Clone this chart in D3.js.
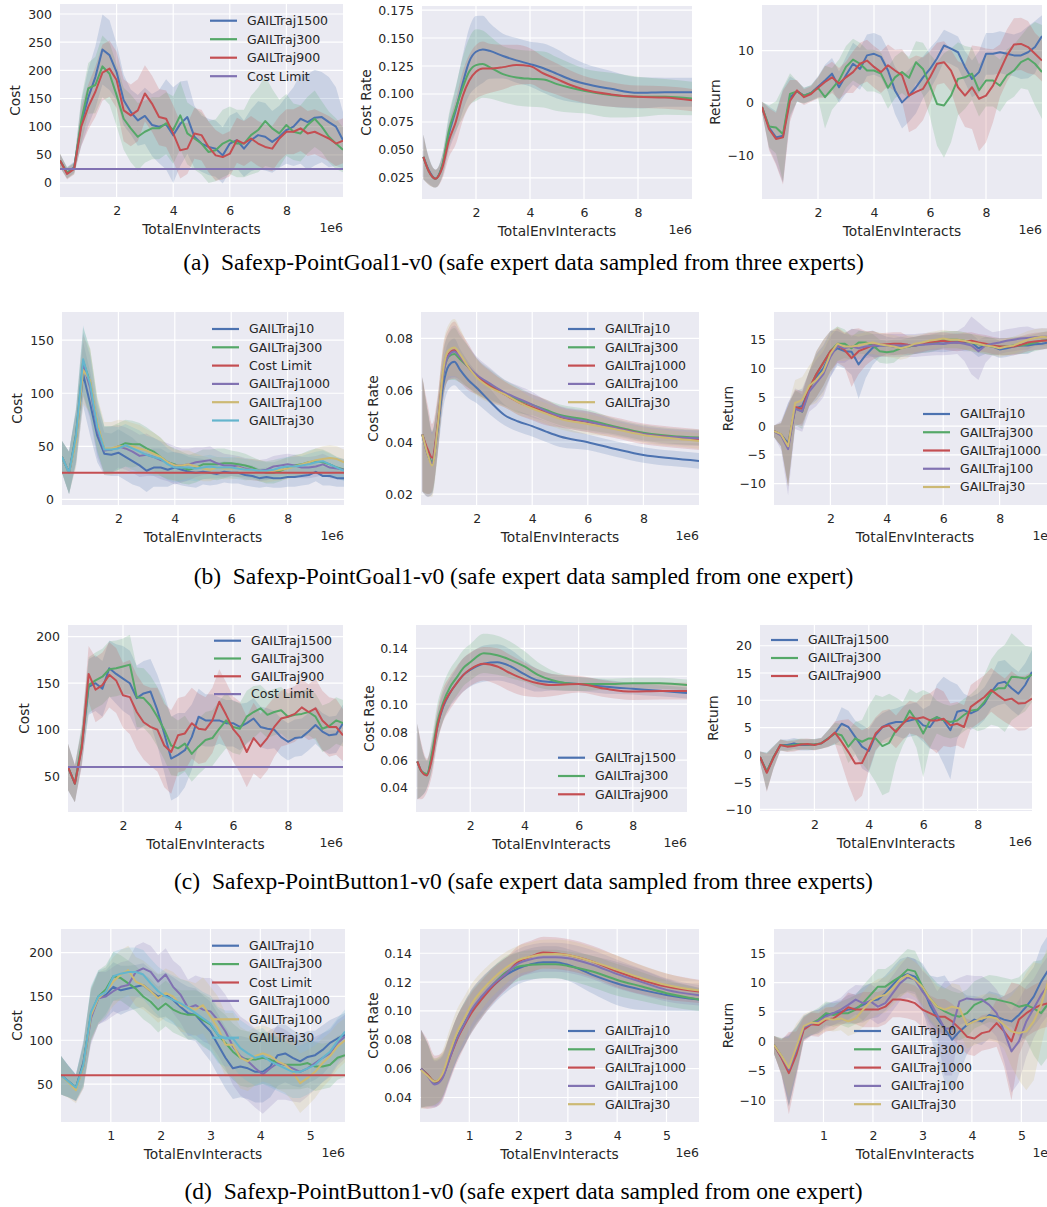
<!DOCTYPE html>
<html>
<head>
<meta charset="utf-8">
<script src="https://cdn.jsdelivr.net/npm/d3@7"></script>
<style>
  body { margin: 0; background: #fff; }
  svg text { font-family: "DejaVu Sans", sans-serif; fill: #262626; }
  svg text.caption { font-family: "Liberation Serif", "Times New Roman", serif; font-size: 23.5px; fill: #000; white-space: pre; }
</style>
</head>
<body>
<div id="chart"></div>
<script>
// 1: DATA (x in units of 1e6 env interacts)

// shared sample grids
const grid10 = [0,0.25,0.5,0.75,1,1.25,1.5,1.75,2,2.25,2.5,2.75,3,3.25,3.5,3.75,4,4.25,4.5,4.75,5,5.25,5.5,5.75,6,6.25,6.5,6.75,7,7.25,7.5,7.75,8,8.25,8.5,8.75,9,9.25,9.5,9.75,10];
const grid57 = [0,0.15,0.3,0.45,0.6,0.75,0.9,1.05,1.2,1.35,1.5,1.65,1.8,1.95,2.1,2.25,2.4,2.55,2.7,2.85,3,3.15,3.3,3.45,3.6,3.75,3.9,4.05,4.2,4.35,4.5,4.65,4.8,4.95,5.1,5.25,5.4,5.55,5.7];
const gx_a_rate = [0.05,0.25,0.5,0.75,1,1.25,1.5,1.75,2,2.25,2.5,3,3.5,4,4.5,5,5.5,6,7,8,9,10];
const gx_b_rate = [0.05,0.25,0.4,0.6,0.8,1,1.2,1.4,1.7,2,2.5,3,3.5,4,4.5,5,6,7,8,9,10];
const gx_c_rate = [0.05,0.2,0.4,0.6,0.8,1,1.25,1.5,1.75,2,2.5,3,3.5,4,4.5,5,6,7,8,9,10];
const gx_d_rate = [0.02,0.15,0.3,0.45,0.6,0.75,0.9,1.05,1.25,1.5,1.75,2,2.25,2.5,2.75,3,3.5,4,4.5,5,5.7];

const costLimitA = 25, costLimitB = 25, costLimitC = 60, costLimitD = 60;

// (a) cost
const a_cost_1500 = [40,18,28,105,152,188,237,227,197,147,126,111,119,103,100,104,85,105,117,82,70,64,61,49,70,76,61,76,85,82,73,82,94,100,114,108,116,117,108,100,76];
const a_cost_300  = [40,18,26,110,168,174,207,194,156,114,97,82,91,97,97,106,94,120,88,79,70,55,58,70,76,70,70,85,94,110,97,88,103,91,88,103,114,100,82,70,59];
const a_cost_900  = [40,16,25,100,135,162,196,203,183,129,120,129,159,141,117,114,88,58,61,88,85,64,49,46,52,76,70,79,70,64,61,79,91,91,97,88,91,85,79,70,75];
const a_cost_1500_sd = [12,10,10,40,50,55,62,62,50,45,40,45,50,55,65,80,85,75,65,55,50,50,50,50,50,50,50,55,60,60,55,55,60,70,80,85,85,80,80,70,50];
const a_cost_300_sd  = [12,10,10,40,45,50,55,55,55,55,60,60,55,55,55,55,60,60,55,55,55,55,55,60,60,60,60,70,75,80,70,60,55,50,50,50,50,45,45,45,40];
const a_cost_900_sd  = [12,10,10,35,40,45,50,50,50,55,55,55,50,50,50,50,50,50,45,45,45,45,45,40,40,40,40,40,40,40,40,40,40,40,40,40,40,40,40,40,40];

// (a) cost rate
const a_rate_1500 = [0.0438,0.0319,0.0244,0.036,0.0647,0.0855,0.109,0.129,0.1377,0.1398,0.1386,0.1339,0.130,0.1267,0.123,0.118,0.113,0.1094,0.1046,0.101,0.1016,0.1016];
const a_rate_300  = [0.0438,0.031,0.0244,0.036,0.0676,0.087,0.105,0.12,0.1258,0.1267,0.124,0.1177,0.1148,0.1136,0.113,0.1088,0.1055,0.1028,0.099,0.0975,0.0975,0.096];
const a_rate_900  = [0.0438,0.031,0.0244,0.034,0.0587,0.075,0.0975,0.112,0.1198,0.1228,0.1228,0.124,0.126,0.1249,0.1183,0.1133,0.108,0.104,0.0996,0.0975,0.0969,0.0945];
const a_rate_1500_sd = [0.02,0.012,0.008,0.01,0.015,0.02,0.025,0.03,0.032,0.03,0.025,0.02,0.02,0.02,0.022,0.022,0.02,0.018,0.016,0.014,0.013,0.013];
const a_rate_300_sd  = [0.02,0.012,0.008,0.01,0.015,0.02,0.027,0.03,0.032,0.03,0.028,0.025,0.025,0.025,0.025,0.024,0.022,0.02,0.02,0.018,0.016,0.015];
const a_rate_900_sd  = [0.02,0.012,0.008,0.01,0.015,0.02,0.022,0.023,0.024,0.024,0.022,0.02,0.018,0.016,0.015,0.014,0.013,0.012,0.011,0.01,0.01,0.01];

// (a) return
const a_ret_1500 = [-0.8,-4.7,-6.6,-6.3,1.1,2.2,1.4,1.9,3.1,4.3,5.6,3.0,5.3,7.5,6.5,9.1,9.4,8.8,6.2,2.4,0.1,1.4,3.0,4.9,6.5,8.5,11.0,10.4,9.7,6.9,4.6,5.9,9.4,9.4,9.7,9.4,9.1,9.1,9.7,10.7,12.8];
const a_ret_300  = [-0.8,-4.5,-4.7,-6.0,1.7,2.2,1.4,1.9,2.9,1.1,2.7,4.3,6.9,8.3,7.5,6.2,6.2,5.6,2.9,4.9,5.9,4.8,7.8,6.5,3.3,-0.2,-0.5,1.4,4.6,4.9,5.6,2.4,4.3,4.3,3.3,5.3,6.2,7.8,8.5,7.5,5.9];
const a_ret_900  = [-0.8,-5.0,-6.9,-6.6,0.4,2.4,1.1,1.7,2.9,4.0,4.9,3.7,4.9,5.9,7.5,8.1,6.9,5.9,7.2,6.2,5.3,1.4,2.1,2.7,4.9,7.5,7.8,6.2,3.0,1.4,3.0,0.8,1.4,3.3,6.2,9.1,11.2,11.3,10.7,9.4,8.1];
const a_ret_1500_sd = [1,4,5,9,4,2,1.5,1.5,2,3,3,3,3.5,4,4,4,4,4,4,4.5,5,5,5,4,4,3.5,3,3,3,3,3.5,4,4,4,4,4,4,4.5,5,5,4];
const a_ret_300_sd  = [1,4,5,9,4,2,1.5,1.5,2,6,4,4,4,4,4,4,4,4,4,4,4,4,4,5,6,8,10,9,7,6,5,5,5,5,5,5,5,5,6,8,9];
const a_ret_900_sd  = [1,4,5,9,4,2,1.5,1.5,2,3,3,3,3,4,4,4,4,4,4,4,5,7,7,6,5,4,4,4,5,6,8,10,9,7,5,5,5,5,5,4,4];

// (b) cost
const b_cost_10   = [40,25,58,118,90,60,43,42,44,40,36,32,27,30,30,28,30,28,26,25,26,25,24,26,25,25,23,22,20,21,20,20,21,21,22,23,26,22,22,20,20];
const b_cost_300  = [40,25,62,130,110,70,47,47,50,53,52,52,48,45,40,35,33,30,28,30,33,33,33,34,34,33,32,30,27,25,25,27,30,32,33,35,36,35,33,30,28];
const b_cost_1000 = [40,25,60,127,105,65,46,47,50,48,45,41,42,40,37,35,32,32,33,35,36,37,34,32,32,31,29,28,27,28,31,32,33,32,30,30,31,33,30,29,28];
const b_cost_100  = [40,25,55,122,112,72,48,48,50,50,50,48,46,43,40,35,32,32,33,31,29,28,30,29,29,30,28,28,27,26,27,28,29,31,33,35,37,38,39,38,35];
const b_cost_30   = [40,25,60,132,108,68,47,47,48,51,48,45,42,40,38,33,30,30,30,29,30,31,30,30,30,29,28,28,27,27,28,30,31,31,32,33,35,36,33,30,27];
const b_cost_10_sd   = [15,20,25,30,30,25,20,20,22,22,22,20,20,18,18,16,15,15,14,14,12,12,10,10,10,10,10,10,9,9,9,9,9,9,9,9,9,9,9,8,8];
const b_cost_300_sd  = [15,20,25,32,32,25,22,22,22,22,22,20,20,18,18,16,15,15,14,14,14,14,15,14,12,12,11,10,10,10,10,10,10,10,10,11,12,12,11,10,10];
const b_cost_1000_sd = [15,20,25,30,30,25,22,22,20,20,20,20,20,18,18,18,18,16,15,14,13,13,12,11,10,10,10,10,10,10,10,10,10,10,10,10,10,10,10,10,10];
const b_cost_100_sd  = [15,20,25,32,30,25,25,25,25,24,22,22,20,20,18,16,15,14,13,12,12,11,10,10,10,10,10,10,10,10,10,10,10,10,10,10,11,12,12,12,12];
const b_cost_30_sd   = [15,20,25,32,30,25,22,22,20,20,20,20,18,18,16,15,14,13,12,12,11,11,10,10,10,10,10,9,9,9,9,9,9,9,9,10,10,10,10,10,10];

// (b) cost rate
const b_rate_10   = [0.043,0.035,0.0318,0.045,0.062,0.0695,0.071,0.068,0.064,0.061,0.0555,0.0505,0.048,0.0462,0.0441,0.0422,0.040,0.0374,0.0351,0.0338,0.0328];
const b_rate_300  = [0.043,0.036,0.0325,0.046,0.066,0.073,0.074,0.072,0.069,0.0655,0.062,0.059,0.0563,0.0544,0.0524,0.0505,0.0486,0.046,0.0437,0.0424,0.0418];
const b_rate_1000 = [0.043,0.037,0.034,0.047,0.067,0.074,0.0755,0.073,0.069,0.0655,0.0615,0.0585,0.0555,0.0535,0.0515,0.0497,0.0478,0.0455,0.0432,0.042,0.041];
const b_rate_100  = [0.043,0.035,0.032,0.046,0.066,0.0735,0.075,0.073,0.069,0.066,0.0625,0.0592,0.0568,0.0545,0.052,0.050,0.048,0.0455,0.0432,0.042,0.0415];
const b_rate_30   = [0.043,0.035,0.031,0.046,0.068,0.0755,0.0765,0.074,0.069,0.065,0.061,0.0585,0.0555,0.053,0.051,0.049,0.047,0.045,0.0428,0.0415,0.0405];
const b_rate_10_sd   = [0.022,0.016,0.012,0.01,0.009,0.009,0.009,0.008,0.007,0.006,0.005,0.004,0.004,0.004,0.004,0.004,0.003,0.003,0.003,0.003,0.003];
const b_rate_300_sd  = [0.022,0.016,0.012,0.01,0.009,0.009,0.01,0.009,0.008,0.007,0.006,0.005,0.005,0.004,0.004,0.004,0.004,0.003,0.003,0.003,0.003];
const b_rate_1000_sd = [0.022,0.017,0.013,0.011,0.01,0.01,0.011,0.01,0.009,0.007,0.006,0.005,0.005,0.005,0.005,0.004,0.004,0.004,0.004,0.004,0.004];
const b_rate_100_sd  = [0.022,0.016,0.012,0.01,0.009,0.009,0.01,0.009,0.008,0.007,0.006,0.005,0.005,0.005,0.004,0.004,0.004,0.003,0.003,0.003,0.003];
const b_rate_30_sd   = [0.022,0.016,0.012,0.011,0.01,0.01,0.011,0.01,0.008,0.007,0.006,0.005,0.005,0.004,0.004,0.004,0.004,0.003,0.003,0.003,0.003];

// (b) return
const b_ret_10   = [-0.9,-1.5,-3,3,3.5,6.5,8.5,10,12.5,13.5,13.0,12.9,10.7,12.3,13.6,14,14,13.8,14,13.8,14,14.2,14.3,14.4,14.3,14.5,14.6,14.5,14.5,13.5,14,13.8,13.3,13.5,13.8,14,14,14.2,14.3,14.5,14.5];
const b_ret_300  = [-0.9,-1.5,-3.5,3.2,2.5,6.5,9,11,13,14.3,14.3,13.5,14.5,14.5,14,13,12.8,13,13.5,13.8,14,14.2,14.3,14.6,15,15,15,14.8,14.5,14.2,14,13.8,13.8,13.8,14,14,14.2,14.5,14.8,15,15];
const b_ret_1000 = [-0.9,-1.5,-3.5,3.3,3,6.5,9,11,13,14,13.2,11.8,13,13.5,14,14.1,14.2,14.3,14.3,14.1,14,14.3,14.6,14.7,14.8,14.6,14.5,14.7,14.8,14.5,14.3,14,13.8,13.8,13.8,14.1,14.5,14.7,14.8,14.9,15];
const b_ret_100  = [-0.9,-1.6,-4,3,2.5,6,7.5,9,12,14,13.5,13.8,13.5,13.8,14,14,14,14,14,14,14,14.1,14.2,14.3,14.3,14.4,14.5,14.3,14,13,14,14.3,14.5,14.8,15,15.2,15.3,15.4,15.5,15.5,15.5];
const b_ret_30   = [-0.9,-1.4,-3.5,4,4.5,7,8,9.5,12.5,14.3,13.8,13.8,14,14.3,14.5,14.2,14,13.8,13.5,13.8,14.3,14.5,14.8,15,15.2,15,15,14.8,14.5,14.3,14,13.8,13.5,13.8,14,14.5,15,15.3,15.5,15.4,15.3];
const b_ret_10_sd   = [1,2,7,3,3,3,4,4,4,3,3,4,6,4,3,2, 1.5,1.5,1.5,1.5,1.5, 1.5,1.5,1.5,1.5,1.5, 1.5,1.5,1.5,1.5,1.5, 1.5,1.5,1.5,1.5,1.5, 1.5, 1,1,1,1];
const b_ret_300_sd  = [1,2,7,3,3,3,4,4,3.5,3,2.5,2,2,2,2,2,2,2, 1.5,1.5,1.5,1.5,1.5, 1.5,1.5,1.5,1.5,1.5, 1.5,1.5,1.5,1.5,1.5, 1.5,1.5,1.5,1.5,1.5, 1.5,1.5,1.5];
const b_ret_1000_sd = [1,2,7,3,3,3,4,4,3.5,3,3,5,4,3,2.5,2,2,2,2,1.5, 1.5,1.5,1.5,1.5,1.5, 1.5,1.5,1.5,1.5,1.5, 1.5,1.5,1.5,1.5,1.5, 1.5,1.5,1.5,1.5,1.5, 1.5];
const b_ret_100_sd  = [1,2.5,8,3.5,3.5,3.5,4,4,3.5,3,2.5,2,2,2,2,2,2,2,2,2, 2,2,2,2,2, 2,2,3,5,5, 3,2,2,2,2, 2,2,1.5,1.5,1.5, 1.5];
const b_ret_30_sd   = [1,2,7,4,4,3.5,4,4,3.5,3,2.5,2,2,2,2,2,2,2,2,2, 1.5,1.5,1.5,1.5,1.5, 1.5,1.5,1.5,1.5,1.5, 1.5,1.5,1.5,1.5,1.5, 1.5,1.5,1.5,1.5,1.5, 1.5];

// (c) cost
const c_cost_1500 = [60,42,82,146,150,144,166,160,155,150,134,139,141,121,96,69,73,78,92,114,110,110,110,107,107,103,107,112,103,101,100,92,87,91,92,98,105,98,94,95,107];
const c_cost_300  = [60,42,85,148,153,157,165,166,168,170,135,134,126,114,100,83,80,85,74,82,89,91,101,110,103,101,114,119,123,116,119,121,114,116,117,119,114,101,104,110,107];
const c_cost_900  = [60,42,80,160,143,148,159,153,137,135,119,108,103,100,83,76,94,96,107,101,100,110,130,116,101,92,76,91,82,91,103,112,114,117,124,119,123,110,103,103,94];
const c_cost_1500_sd = [25,20,20,30,30,30,30,32,35,35,35,35,35,38,42,45,45,40,35,30,28,28,25,25,25,25,22,22,22,22,20,20,20,20,20,20,20,20,20,20,20];
const c_cost_300_sd  = [25,20,20,30,30,30,30,30,30,32,32,32,32,32,32,32,30,30,30,30,30,30,30,30,28,28,28,28,25,25,25,25,25,25,25,25,25,25,25,25,25];
const c_cost_900_sd  = [25,20,20,30,35,35,35,35,35,40,40,40,42,45,45,45,40,40,38,38,35,35,35,35,35,38,38,38,35,35,32,30,30,30,30,30,32,32,32,30,28];

// (c) cost rate
const c_rate_1500 = [0.059,0.052,0.0495,0.064,0.085,0.098,0.108,0.115,0.121,0.1245,0.129,0.130,0.127,0.1215,0.117,0.1158,0.1144,0.1125,0.111,0.1096,0.108];
const c_rate_300  = [0.059,0.052,0.05,0.066,0.088,0.101,0.112,0.119,0.126,0.130,0.1364,0.135,0.1316,0.127,0.121,0.1173,0.1144,0.1144,0.115,0.115,0.1137];
const c_rate_900  = [0.059,0.052,0.049,0.062,0.085,0.099,0.108,0.115,0.121,0.125,0.129,0.127,0.122,0.1178,0.115,0.1137,0.1144,0.111,0.109,0.1094,0.1094];
const c_rate_1500_sd = [0.027,0.018,0.01,0.01,0.01,0.01,0.01,0.011,0.012,0.012,0.013,0.013,0.012,0.01,0.008,0.006,0.005,0.005,0.004,0.004,0.004];
const c_rate_300_sd  = [0.027,0.018,0.01,0.012,0.013,0.013,0.013,0.013,0.013,0.013,0.014,0.014,0.013,0.011,0.009,0.007,0.005,0.004,0.004,0.004,0.004];
const c_rate_900_sd  = [0.027,0.02,0.012,0.012,0.012,0.012,0.012,0.012,0.012,0.012,0.012,0.013,0.013,0.012,0.01,0.008,0.006,0.006,0.006,0.006,0.006];

// (c) return
const c_ret_1500 = [-0.4,-3.1,-0.4,1.8,1.8,2.1,1.8,1.8,1.9,2.1,3.0,3.9,5.7,5.1,3.3,1.5,0.7,3.6,5.1,5.7,6.0,6.0,6.3,6.6,5.4,5.1,6.9,6.3,4.5,7.9,8.2,7.6,8.2,9.4,11.5,13.1,13.4,12.2,11.2,12.8,15.2];
const c_ret_300  = [-0.4,-3.1,-0.4,1.8,1.6,1.8,2,1.9,1.9,2.1,3.0,3.9,3.6,1.5,3.0,2.4,3.0,3.0,1.6,2.2,4.5,5.7,8.1,6.3,3.9,6.3,6.9,6.3,6.0,6.3,7.3,8.1,8.3,9.7,11.5,12.2,12.2,14.3,14.2,14.0,14.7];
const c_ret_900  = [-0.4,-3.3,-0.5,1.8,1.5,1.6,1.9,2.0,1.8,2.1,2.9,4.1,2.4,0.5,-1.6,-1.5,1.1,3.9,5.1,5.4,4.2,5.7,6.9,6.6,6.9,6.3,6.3,6.6,5.4,5.7,5.1,8.8,9.7,10.6,11.9,10.9,10.0,10.3,9.4,9.5,10.3];
const c_ret_1500_sd = [1,3.5,2,1,1,1,1,1,1,1,1.5,2,3,3,3,4,4,3,2.5,2.5,2.5,3,3,3,3,4,6,8,9,5,3,3,3,3,3,4,4,4,4,4,4];
const c_ret_300_sd  = [1,3.5,2,1,1,1,1,1,1,1,1.5,2,2,3,3,4,6,8,9,9,6,4,4,5,8,5,3,3,3,3,3,3,4,5,6,7,8,8,7,6,5];
const c_ret_900_sd  = [1,3.5,2,1,1,1,1,1,1,1,1.5,2,4,6,7,6,4,3,3,3,3,3,3,3,4,5,6,5,4,4,4,4,4,4,4,4,4,5,5,5,5];

// (d) cost
const d_cost_10   = [60,53,46,75,128,148,152,161,157,159,161,163,156,150,152,146,138,131,129,119,110,95,80,68,70,68,64,64,70,83,85,80,76,81,83,89,97,102,106];
const d_cost_300  = [60,53,46,72,130,150,158,173,171,165,159,150,144,135,142,135,131,129,129,123,118,106,97,87,80,78,78,80,78,74,72,72,72,74,70,70,72,80,83];
const d_cost_1000 = [60,53,45,70,125,148,150,156,161,163,178,182,178,167,175,161,152,137,140,135,133,123,110,93,82,76,68,61,68,74,72,68,64,68,74,80,85,97,104];
const d_cost_100  = [60,52,43,70,128,148,155,167,175,180,167,163,156,148,154,150,140,138,135,140,127,114,95,95,80,76,82,85,82,76,72,64,51,57,64,74,82,93,100];
const d_cost_30   = [60,53,46,72,132,150,155,173,176,178,178,175,165,156,150,146,142,137,131,125,119,106,102,102,91,85,80,82,76,72,68,64,64,68,72,80,87,99,110];
const d_cost_10_sd   = [22,18,15,25,30,30,28,28,28,26,25,25,25,25,25,26,28,30,30,32,34,35,35,35,35,35,35,35,35,35,33,32,30,30,28,28,26,25,25];
const d_cost_300_sd  = [22,18,15,25,30,30,28,28,26,26,26,26,26,26,26,26,26,28,28,30,30,30,32,32,32,32,30,30,30,30,28,28,28,28,28,26,26,25,25];
const d_cost_1000_sd = [22,18,15,25,30,30,28,28,28,28,30,30,30,30,30,30,32,32,34,36,38,40,42,44,45,45,45,45,44,42,40,38,35,32,30,28,27,26,25];
const d_cost_100_sd  = [22,18,15,25,30,30,28,28,28,28,28,28,28,28,28,28,30,30,30,32,34,36,36,36,35,34,33,32,32,32,32,34,34,32,30,28,27,26,25];
const d_cost_30_sd   = [22,18,15,25,30,30,28,28,28,28,28,28,28,28,28,28,28,30,30,30,32,32,32,32,32,32,32,32,30,30,30,30,30,30,28,28,27,26,25];

// (d) cost rate
const d_rate_10   = [0.06,0.056,0.05,0.054,0.068,0.081,0.091,0.100,0.109,0.118,0.125,0.1296,0.1324,0.1338,0.1338,0.132,0.125,0.119,0.1146,0.1111,0.1077];
const d_rate_300  = [0.06,0.056,0.051,0.055,0.068,0.081,0.091,0.100,0.109,0.119,0.127,0.1308,0.132,0.1324,0.1324,0.1312,0.1273,0.1215,0.1169,0.1123,0.1077];
const d_rate_1000 = [0.06,0.056,0.051,0.054,0.067,0.080,0.090,0.099,0.108,0.118,0.126,0.1342,0.1377,0.1405,0.140,0.1388,0.1342,0.1273,0.1215,0.1169,0.1134];
const d_rate_100  = [0.06,0.055,0.049,0.053,0.067,0.081,0.091,0.101,0.110,0.119,0.126,0.133,0.1358,0.1372,0.1372,0.1365,0.132,0.1255,0.12,0.1146,0.1107];
const d_rate_30   = [0.059,0.055,0.051,0.056,0.071,0.085,0.095,0.105,0.114,0.123,0.130,0.1354,0.1377,0.1393,0.1395,0.1388,0.1342,0.1285,0.1227,0.118,0.1139];
const d_rate_10_sd   = [0.027,0.022,0.016,0.015,0.015,0.015,0.015,0.015,0.014,0.013,0.012,0.011,0.011,0.011,0.011,0.011,0.013,0.015,0.014,0.011,0.008];
const d_rate_300_sd  = [0.027,0.022,0.016,0.015,0.015,0.015,0.015,0.014,0.013,0.012,0.011,0.01,0.01,0.01,0.01,0.01,0.011,0.011,0.01,0.009,0.008];
const d_rate_1000_sd = [0.027,0.024,0.018,0.017,0.016,0.016,0.015,0.014,0.013,0.012,0.011,0.011,0.011,0.011,0.011,0.011,0.011,0.011,0.01,0.009,0.008];
const d_rate_100_sd  = [0.027,0.022,0.016,0.015,0.015,0.015,0.015,0.014,0.013,0.012,0.011,0.01,0.01,0.01,0.01,0.01,0.01,0.01,0.009,0.008,0.007];
const d_rate_30_sd   = [0.027,0.022,0.016,0.016,0.016,0.016,0.015,0.014,0.013,0.012,0.011,0.01,0.01,0.01,0.01,0.01,0.01,0.01,0.009,0.008,0.007];

// (d) return
const d_ret_10   = [-0.6,-2.6,-5.1,-1.7,2.2,3.1,3.4,4.5,4.8,5.0,5.4,5.6,6.2,6.9,7.1,8.2,9.6,11.0,11.4,11.0,9.3,6.2,3.9,2.2,0.3,1.7,2.8,3.7,3.4,4.5,4.2,3.7,3.4,4.5,5.9,7.6,10.2,12.2,12.5];
const d_ret_300  = [-0.6,-2.5,-5.0,-1.5,2.3,3.0,3.7,4.8,4.5,4.8,4.8,5.4,6.5,7.9,9.3,9.3,10.2,11.0,12.2,11.9,9.3,7.3,5.9,5.1,4.5,4.2,4.8,6.2,6.8,7.3,7.1,6.8,6.5,5.9,6.2,5.6,4.8,6.5,7.5];
const d_ret_1000 = [-0.6,-2.8,-5.4,-2.3,2.0,2.9,2.8,3.7,3.9,4.8,5.8,5.4,5.4,5.4,5.4,5.9,7.1,7.1,6.9,6.5,5.4,4.8,4.2,4.2,3.4,2.2,0.8,0.5,1.4,1.7,3.1,1.7,0.0,3.7,4.8,5.6,6.2,6.5,6.2];
const d_ret_100  = [-0.6,-2.5,-4.8,-1.5,2.4,3.0,3.4,4.2,4.8,5.4,6.2,7.1,6.5,6.8,5.9,6.5,8.2,9.9,10.9,10.5,8.5,6.8,4.5,2.2,2.2,6.8,7.3,7.1,7.1,6.2,4.8,1.7,-1.7,0.0,3.4,5.6,7.9,9.6,11];
const d_ret_30   = [-0.6,-2.4,-4.5,-1.0,2.6,3.2,3.1,3.9,3.7,3.9,3.4,3.9,5.4,6.8,7.6,7.9,9.0,10.5,11.3,10.5,9.3,7.3,5.9,5.4,5.9,5.6,2.8,3.4,3.9,4.2,3.9,2.8,1.7,1.4,1.7,3.4,6.2,10.5,12];
const d_ret_10_sd   = [1.5,3,6,4,2,2,2,2,2,2,2.5,2.5,3,3,3,3,3,3,3,3,4,5,7,9,9,7,5,4,4,4,4,4,5,5,5,5,6,6,6];
const d_ret_300_sd  = [1.5,3,6,4,2,2,2,2,2,2,2.5,2.5,3,3,3,3,3,3.5,3.5,3.5,3.5,4,4,4,4,4,4,4,4,4,4,4,4,5,6,8,9,9,9];
const d_ret_1000_sd = [1.5,3,7,4,2,2,2,2,2,2,2.5,2.5,3,3,3,3,3,3,3,3,3,3,3,3,3,3,3,3,3,3,4,6,10,6,4,4,4,4,4];
const d_ret_100_sd  = [1.5,3,6,4,2,2,2,2,2,2,2.5,2.5,3,3,3,3,3,3,3.5,3.5,3.5,4,4,8,8,4,4,4,4,4,4,5,7,7,6,5,5,5,5];
const d_ret_30_sd   = [1.5,3,5,4,2,2,2,2,2,2,2.5,2.5,3,3,3,3,3,3,3,3,3,3.5,3.5,3.5,4,4,4,4,4,4,4,4,6,8,10,10,7,6,5];

// 2: STYLE + LAYOUT
const C = { blue: "#4C72B0", green: "#55A868", red: "#C44E52", purple: "#8172B2", yellow: "#CCB974", cyan: "#64B5CD" };
const bg = "#EAEAF2";
const lineW = 2;
const tickFont = 12.5, labelFont = 13.75;

const svg = d3.select("#chart")
    .append("svg")
    .attr("width", 1047)
    .attr("height", 1207);

const s = (name, color, x, y, sd) => ({ name, color, x, y, sd });

const panels = [
  // row (a)
  { rect: [60, 4, 343, 197], xDom: [0, 10], yDom: [-24.9, 317.8], xTicks: [2,4,6,8], yTicks: [0,50,100,150,200,250,300],
    yFmt: d3.format("d"), yLabel: "Cost", yLabelX: 15, curve: d3.curveLinear,
    series: [s("GAILTraj1500", C.blue, grid10, a_cost_1500, a_cost_1500_sd), s("GAILTraj300", C.green, grid10, a_cost_300, a_cost_300_sd), s("GAILTraj900", C.red, grid10, a_cost_900, a_cost_900_sd)],
    limit: { name: "Cost Limit", color: C.purple, value: costLimitA },
    legend: { x: 210, y: 20.7, dy: 18.5, items: ["GAILTraj1500", "GAILTraj300", "GAILTraj900", "Cost Limit"] } },
  { rect: [422, 6, 692, 199], xDom: [0, 10], yDom: [0.0062, 0.1786], xTicks: [2,4,6,8], yTicks: [0.025,0.05,0.075,0.1,0.125,0.15,0.175],
    yFmt: d3.format(".3f"), yLabel: "Cost Rate", yLabelX: 366, curve: d3.curveMonotoneX,
    series: [s("GAILTraj1500", C.blue, gx_a_rate, a_rate_1500, a_rate_1500_sd), s("GAILTraj300", C.green, gx_a_rate, a_rate_300, a_rate_300_sd), s("GAILTraj900", C.red, gx_a_rate, a_rate_900, a_rate_900_sd)] },
  { rect: [762, 5, 1042, 199], xDom: [0, 10], yDom: [-18.4, 18.75], xTicks: [2,4,6,8], yTicks: [-10,0,10],
    yFmt: d3.format("d"), yLabel: "Return", yLabelX: 715, curve: d3.curveLinear,
    series: [s("GAILTraj1500", C.blue, grid10, a_ret_1500, a_ret_1500_sd), s("GAILTraj300", C.green, grid10, a_ret_300, a_ret_300_sd), s("GAILTraj900", C.red, grid10, a_ret_900, a_ret_900_sd)] },

  // row (b)
  { rect: [62, 312, 344, 505], xDom: [0, 10], yDom: [-5.3, 176.6], xTicks: [2,4,6,8], yTicks: [0,50,100,150],
    yFmt: d3.format("d"), yLabel: "Cost", yLabelX: 17, curve: d3.curveLinear,
    series: [s("GAILTraj10", C.blue, grid10, b_cost_10, b_cost_10_sd), s("GAILTraj300", C.green, grid10, b_cost_300, b_cost_300_sd),
             s("GAILTraj1000", C.purple, grid10, b_cost_1000, b_cost_1000_sd), s("GAILTraj100", C.yellow, grid10, b_cost_100, b_cost_100_sd), s("GAILTraj30", C.cyan, grid10, b_cost_30, b_cost_30_sd)],
    limit: { name: "Cost Limit", color: C.red, value: costLimitB },
    legend: { x: 212, y: 329, dy: 18.3, items: ["GAILTraj10", "GAILTraj300", "Cost Limit", "GAILTraj1000", "GAILTraj100", "GAILTraj30"] } },
  { rect: [421, 312, 699, 505], xDom: [0, 10], yDom: [0.0158, 0.0902], xTicks: [2,4,6,8], yTicks: [0.02,0.04,0.06,0.08],
    yFmt: d3.format(".2f"), yLabel: "Cost Rate", yLabelX: 373, curve: d3.curveMonotoneX,
    series: [s("GAILTraj10", C.blue, gx_b_rate, b_rate_10, b_rate_10_sd), s("GAILTraj300", C.green, gx_b_rate, b_rate_300, b_rate_300_sd), s("GAILTraj1000", C.red, gx_b_rate, b_rate_1000, b_rate_1000_sd),
             s("GAILTraj100", C.purple, gx_b_rate, b_rate_100, b_rate_100_sd), s("GAILTraj30", C.yellow, gx_b_rate, b_rate_30, b_rate_30_sd)],
    legend: { x: 568, y: 329, dy: 18.3, items: ["GAILTraj10", "GAILTraj300", "GAILTraj1000", "GAILTraj100", "GAILTraj30"] } },
  { rect: [774, 312, 1056, 505], xDom: [0, 10], yDom: [-13.7, 19.8], xTicks: [2,4,6,8], yTicks: [-10,-5,0,5,10,15],
    yFmt: d3.format("d"), yLabel: "Return", yLabelX: 728, curve: d3.curveLinear,
    series: [s("GAILTraj10", C.blue, grid10, b_ret_10, b_ret_10_sd), s("GAILTraj300", C.green, grid10, b_ret_300, b_ret_300_sd), s("GAILTraj1000", C.red, grid10, b_ret_1000, b_ret_1000_sd),
             s("GAILTraj100", C.purple, grid10, b_ret_100, b_ret_100_sd), s("GAILTraj30", C.yellow, grid10, b_ret_30, b_ret_30_sd)],
    legend: { x: 923, y: 414, dy: 18.25, items: ["GAILTraj10", "GAILTraj300", "GAILTraj1000", "GAILTraj100", "GAILTraj30"] } },

  // row (c)
  { rect: [68, 625, 343, 812], xDom: [0, 10], yDom: [11.5, 212.6], xTicks: [2,4,6,8], yTicks: [50,100,150,200],
    yFmt: d3.format("d"), yLabel: "Cost", yLabelX: 24, curve: d3.curveLinear,
    series: [s("GAILTraj1500", C.blue, grid10, c_cost_1500, c_cost_1500_sd), s("GAILTraj300", C.green, grid10, c_cost_300, c_cost_300_sd), s("GAILTraj900", C.red, grid10, c_cost_900, c_cost_900_sd)],
    limit: { name: "Cost Limit", color: C.purple, value: costLimitC },
    legend: { x: 214, y: 640.7, dy: 17.8, items: ["GAILTraj1500", "GAILTraj300", "GAILTraj900", "Cost Limit"] } },
  { rect: [416, 625, 687, 812], xDom: [0, 10], yDom: [0.0228, 0.1567], xTicks: [2,4,6,8], yTicks: [0.04,0.06,0.08,0.1,0.12,0.14],
    yFmt: d3.format(".2f"), yLabel: "Cost Rate", yLabelX: 369, curve: d3.curveMonotoneX,
    series: [s("GAILTraj1500", C.blue, gx_c_rate, c_rate_1500, c_rate_1500_sd), s("GAILTraj300", C.green, gx_c_rate, c_rate_300, c_rate_300_sd), s("GAILTraj900", C.red, gx_c_rate, c_rate_900, c_rate_900_sd)],
    legend: { x: 558, y: 757.7, dy: 18.3, items: ["GAILTraj1500", "GAILTraj300", "GAILTraj900"] } },
  { rect: [760, 625, 1032, 811], xDom: [0, 10], yDom: [-10.3, 23.8], xTicks: [2,4,6,8], yTicks: [-10,-5,0,5,10,15,20],
    yFmt: d3.format("d"), yLabel: "Return", yLabelX: 713, curve: d3.curveLinear,
    series: [s("GAILTraj1500", C.blue, grid10, c_ret_1500, c_ret_1500_sd), s("GAILTraj300", C.green, grid10, c_ret_300, c_ret_300_sd), s("GAILTraj900", C.red, grid10, c_ret_900, c_ret_900_sd)],
    legend: { x: 771, y: 640, dy: 18, items: ["GAILTraj1500", "GAILTraj300", "GAILTraj900"] } },

  // row (d)
  { rect: [61, 929, 345, 1122], xDom: [0, 5.7], yDom: [6.7, 227], xTicks: [1,2,3,4,5], yTicks: [50,100,150,200],
    yFmt: d3.format("d"), yLabel: "Cost", yLabelX: 17, curve: d3.curveLinear,
    series: [s("GAILTraj10", C.blue, grid57, d_cost_10, d_cost_10_sd), s("GAILTraj300", C.green, grid57, d_cost_300, d_cost_300_sd),
             s("GAILTraj1000", C.purple, grid57, d_cost_1000, d_cost_1000_sd), s("GAILTraj100", C.yellow, grid57, d_cost_100, d_cost_100_sd), s("GAILTraj30", C.cyan, grid57, d_cost_30, d_cost_30_sd)],
    limit: { name: "Cost Limit", color: C.red, value: costLimitD },
    legend: { x: 212, y: 945.7, dy: 18.4, items: ["GAILTraj10", "GAILTraj300", "Cost Limit", "GAILTraj1000", "GAILTraj100", "GAILTraj30"] } },
  { rect: [420, 929, 699, 1122], xDom: [0, 5.66], yDom: [0.023, 0.1568], xTicks: [1,2,3,4,5], yTicks: [0.04,0.06,0.08,0.1,0.12,0.14],
    yFmt: d3.format(".2f"), yLabel: "Cost Rate", yLabelX: 373, curve: d3.curveMonotoneX,
    series: [s("GAILTraj10", C.blue, gx_d_rate, d_rate_10, d_rate_10_sd), s("GAILTraj300", C.green, gx_d_rate, d_rate_300, d_rate_300_sd), s("GAILTraj1000", C.red, gx_d_rate, d_rate_1000, d_rate_1000_sd),
             s("GAILTraj100", C.purple, gx_d_rate, d_rate_100, d_rate_100_sd), s("GAILTraj30", C.yellow, gx_d_rate, d_rate_30, d_rate_30_sd)],
    legend: { x: 568, y: 1031, dy: 18.3, items: ["GAILTraj10", "GAILTraj300", "GAILTraj1000", "GAILTraj100", "GAILTraj30"] } },
  { rect: [774, 929, 1056, 1122], xDom: [0, 5.7], yDom: [-13.7, 19.1], xTicks: [1,2,3,4,5], yTicks: [-10,-5,0,5,10,15],
    yFmt: d3.format("d"), yLabel: "Return", yLabelX: 728, curve: d3.curveLinear,
    series: [s("GAILTraj10", C.blue, grid57, d_ret_10, d_ret_10_sd), s("GAILTraj300", C.green, grid57, d_ret_300, d_ret_300_sd), s("GAILTraj1000", C.red, grid57, d_ret_1000, d_ret_1000_sd),
             s("GAILTraj100", C.purple, grid57, d_ret_100, d_ret_100_sd), s("GAILTraj30", C.yellow, grid57, d_ret_30, d_ret_30_sd)],
    legend: { x: 854, y: 1031, dy: 18.3, items: ["GAILTraj10", "GAILTraj300", "GAILTraj1000", "GAILTraj100", "GAILTraj30"] } }
];

const captions = [
  { text: "(a)  Safexp-PointGoal1-v0 (safe expert data sampled from three experts)", y: 270 },
  { text: "(b)  Safexp-PointGoal1-v0 (safe expert data sampled from one expert)", y: 584 },
  { text: "(c)  Safexp-PointButton1-v0 (safe expert data sampled from three experts)", y: 889 },
  { text: "(d)  Safexp-PointButton1-v0 (safe expert data sampled from one expert)", y: 1199 }
];

// 3: DRAW ONE PANEL
function drawPanel(p, idx) {
  const [x0, y0, x1, y1] = p.rect;
  const x = d3.scaleLinear().domain(p.xDom).range([x0, x1]);
  const y = d3.scaleLinear().domain(p.yDom).range([y1, y0]);
  const g = svg.append("g").attr("class", "panel");

  p.series.forEach(d => {
    if (d.x.length !== d.y.length || d.y.length !== d.sd.length) console.error("length mismatch", idx, d.name, d.x.length, d.y.length, d.sd.length);
  });

  const clipId = "clip" + idx;
  g.append("clipPath").attr("id", clipId)
    .append("rect").attr("x", x0).attr("y", y0).attr("width", x1 - x0).attr("height", y1 - y0);

  g.append("rect")
    .attr("x", x0).attr("y", y0).attr("width", x1 - x0).attr("height", y1 - y0)
    .attr("fill", bg);

  // grid
  g.selectAll(".gx").data(p.xTicks).enter().append("line")
    .attr("x1", d => x(d)).attr("x2", d => x(d)).attr("y1", y0).attr("y2", y1)
    .attr("stroke", "#fff").attr("stroke-width", 1.2);
  g.selectAll(".gy").data(p.yTicks).enter().append("line")
    .attr("x1", x0).attr("x2", x1).attr("y1", d => y(d)).attr("y2", d => y(d))
    .attr("stroke", "#fff").attr("stroke-width", 1.2);

  const plot = g.append("g").attr("clip-path", `url(#${clipId})`);

  // bands
  plot.selectAll(".band").data(p.series).enter().append("path")
    .attr("d", d => d3.area().curve(p.curve)
        .x((v, i) => x(d.x[i]))
        .y0((v, i) => y(v - d.sd[i]))
        .y1((v, i) => y(v + d.sd[i]))(d.y))
    .attr("fill", d => d.color)
    .attr("fill-opacity", 0.2);

  // mean lines
  plot.selectAll(".mean").data(p.series).enter().append("path")
    .attr("d", d => d3.line().curve(p.curve)
        .x((v, i) => x(d.x[i]))
        .y(v => y(v))(d.y))
    .attr("fill", "none")
    .attr("stroke", d => d.color)
    .attr("stroke-width", lineW)
    .attr("stroke-linejoin", "round");

  if (p.limit) {
    plot.append("line")
      .attr("x1", x0).attr("x2", x1)
      .attr("y1", y(p.limit.value)).attr("y2", y(p.limit.value))
      .attr("stroke", p.limit.color).attr("stroke-width", lineW);
  }

  // axes
  const xa = g.append("g")
    .attr("transform", `translate(0,${y1})`)
    .call(d3.axisBottom(x).tickValues(p.xTicks).tickFormat(d3.format("d")).tickSize(0).tickPadding(9.5));
  xa.select(".domain").remove();
  xa.attr("font-size", tickFont);

  const ya = g.append("g")
    .attr("transform", `translate(${x0},0)`)
    .call(d3.axisLeft(y).tickValues(p.yTicks).tickFormat(p.yFmt).tickSize(0).tickPadding(8));
  ya.select(".domain").remove();
  ya.attr("font-size", tickFont);

  // labels
  g.append("text")
    .attr("x", (x0 + x1) / 2).attr("y", y1 + 37)
    .attr("text-anchor", "middle").attr("font-size", labelFont)
    .text("TotalEnvInteracts");
  g.append("text")
    .attr("x", x1).attr("y", y1 + 35)
    .attr("text-anchor", "end").attr("font-size", tickFont)
    .text("1e6");
  g.append("text")
    .attr("transform", `translate(${p.yLabelX},${(y0 + y1) / 2}) rotate(-90)`)
    .attr("text-anchor", "middle").attr("dy", "0.36em").attr("font-size", labelFont)
    .text(p.yLabel);

  // legend
  if (p.legend) {
    const colorOf = name => {
      if (p.limit && p.limit.name === name) return p.limit.color;
      return p.series.find(d => d.name === name).color;
    };
    const lg = g.append("g");
    p.legend.items.forEach((name, i) => {
      const ly = p.legend.y + i * p.legend.dy;
      lg.append("line")
        .attr("x1", p.legend.x).attr("x2", p.legend.x + 27)
        .attr("y1", ly).attr("y2", ly)
        .attr("stroke", colorOf(name)).attr("stroke-width", 2.2);
      lg.append("text")
        .attr("x", p.legend.x + 37).attr("y", ly)
        .attr("dy", "0.35em").attr("font-size", tickFont)
        .text(name);
    });
  }
}

panels.forEach(drawPanel);

// 4: CAPTIONS
svg.selectAll(".caption").data(captions).enter().append("text")
  .attr("class", "caption")
  .attr("x", 523.5).attr("y", d => d.y)
  .attr("text-anchor", "middle")
  .text(d => d.text);
</script>
</body>
</html>
